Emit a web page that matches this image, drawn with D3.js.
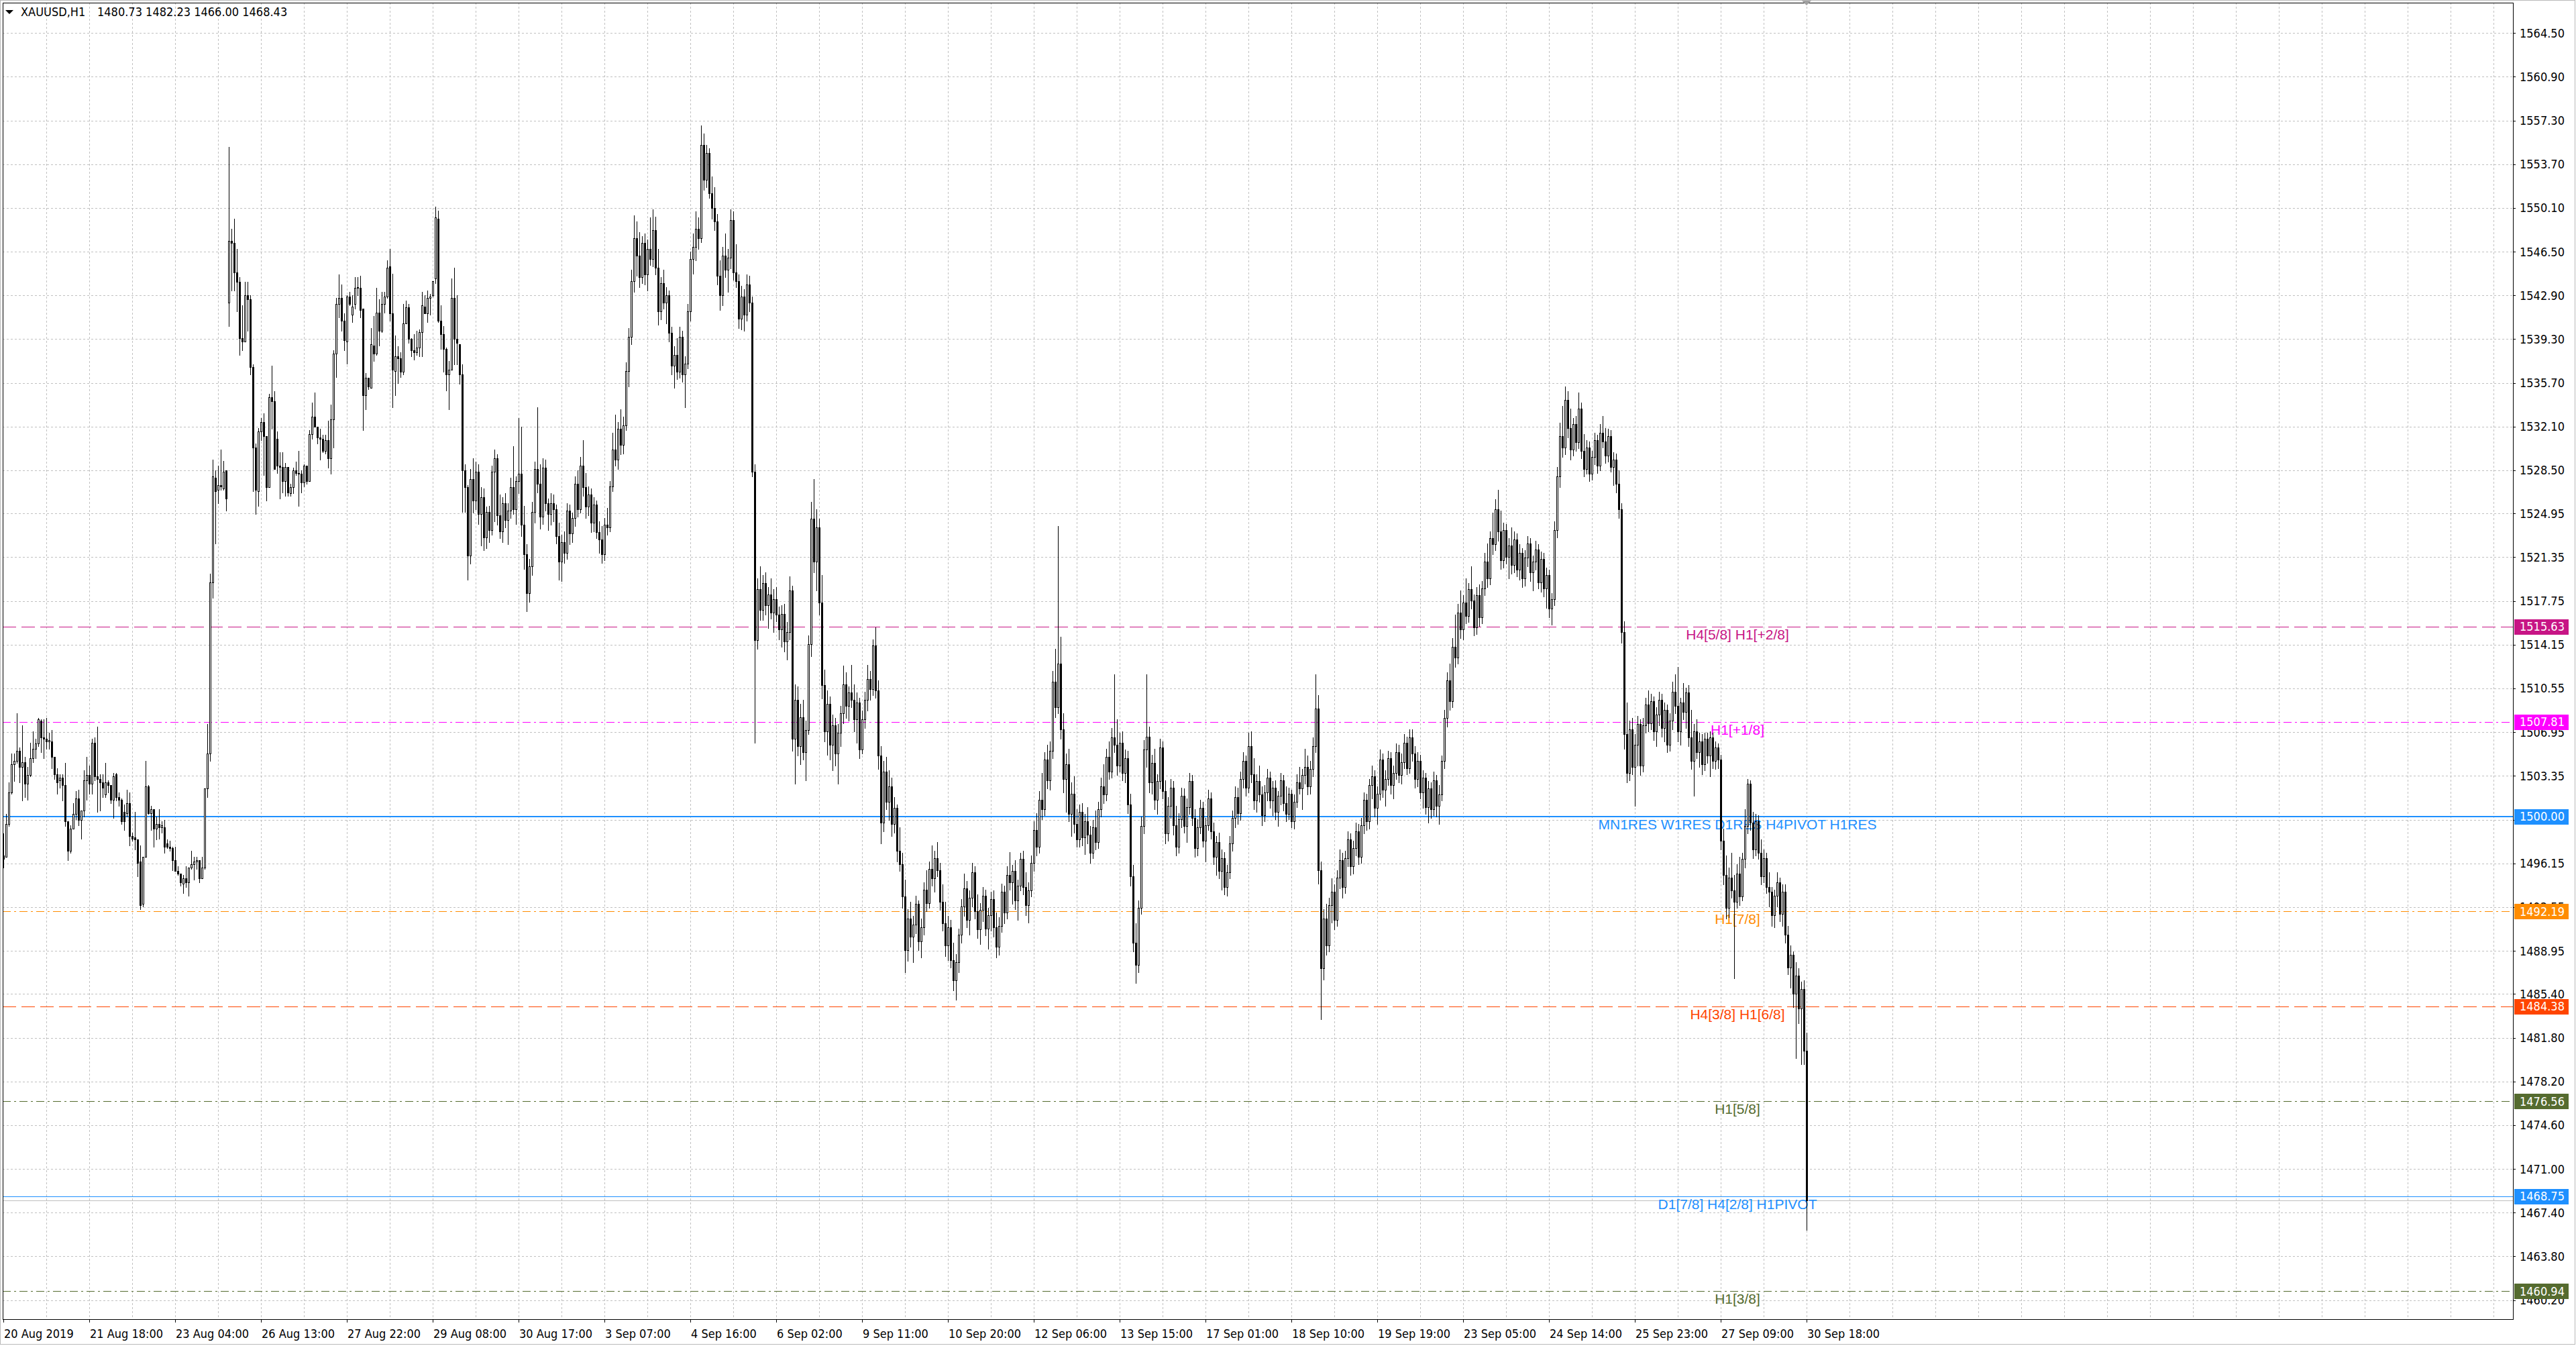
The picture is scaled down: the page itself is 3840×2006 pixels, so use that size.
<!DOCTYPE html>
<html><head><meta charset="utf-8">
<script src="https://cdn.jsdelivr.net/npm/d3@7"></script>
<style>html,body{margin:0;padding:0;background:#fff;overflow:hidden}</style>
</head><body>
<svg id="c" width="3840" height="2006"></svg>
<script>
// ---------------- DATA ----------------
const SYMBOL = "XAUUSD,H1";
const LAST_OHLC = ["1480.73","1482.23","1466.00","1468.43"];

const OPEN = [
1496.8,1496.7,1499.4,1502.0,1504.3,1504.6,1505.4,1504.1,1504.5,1502.7,
1503.4,1504.8,1505.6,1506.0,1507.9,1506.5,1506.4,1506.2,1506.2,1504.9,
1503.5,1503.0,1503.2,1502.6,1499.6,1497.2,1499.0,1500.2,1501.5,1499.7,
1500.5,1503.0,1503.4,1502.7,1506.1,1503.3,1503.1,1502.8,1501.8,1502.8,
1502.6,1501.4,1503.5,1501.6,1501.4,1500.4,1500.3,1501.1,1498.4,1498.3,
1498.1,1496.3,1492.8,1496.7,1502.5,1500.3,1500.6,1499.0,1499.4,1499.1,
1499.1,1497.8,1497.5,1497.4,1496.4,1495.5,1495.3,1494.5,1494.9,1494.6,
1495.8,1496.1,1496.3,1496.4,1494.9,1495.8,1502.3,1505.2,1519.3,1527.9,
1526.9,1527.3,1527.0,1528.5,1542.3,1547.4,1547.2,1544.8,1544.0,1539.4,
1539.1,1542.9,1542.6,1537.0,1530.4,1526.8,1531.7,1532.5,1531.3,1527.1,
1534.5,1534.2,1531.1,1528.9,1528.8,1527.6,1528.8,1526.6,1527.1,1528.5,
1528.3,1528.2,1527.5,1528.9,1527.6,1531.5,1532.9,1532.1,1531.2,1531.1,
1530.1,1531.0,1529.5,1532.7,1538.1,1542.2,1542.7,1540.8,1539.1,1542.8,
1541.3,1542.2,1543.5,1543.5,1541.8,1534.7,1536.1,1535.3,1538.8,1538.1,
1541.5,1540.0,1542.2,1542.8,1545.3,1541.4,1536.7,1537.9,1537.7,1536.6,
1540.6,1541.9,1539.3,1538.4,1538.2,1538.6,1539.9,1542.0,1541.4,1542.7,
1542.9,1544.3,1549.2,1540.8,1539.7,1538.5,1536.4,1536.8,1542.7,1539.3,
1538.9,1536.4,1528.5,1527.1,1521.5,1527.8,1526.0,1528.4,1524.9,1526.3,
1523.0,1525.1,1523.6,1528.4,1529.5,1524.8,1523.5,1525.8,1524.4,1525.2,
1527.1,1525.3,1527.6,1528.2,1524.0,1521.6,1518.4,1520.6,1525.1,1528.6,
1527.4,1524.7,1528.7,1525.8,1524.9,1525.8,1525.3,1523.1,1521.0,1522.6,
1521.7,1525.2,1523.3,1524.6,1527.4,1525.3,1528.9,1527.1,1525.5,1526.5,
1524.2,1525.7,1523.4,1522.8,1521.6,1524.0,1523.8,1527.2,1530.2,1529.4,
1531.9,1530.6,1532.2,1536.7,1539.5,1544.1,1547.6,1546.2,1544.4,1547.2,
1544.6,1546.7,1545.9,1548.3,1545.2,1541.6,1543.9,1542.3,1542.9,1539.8,
1537.1,1538.0,1536.6,1539.5,1536.4,1537.3,1541.6,1545.9,1546.9,1548.4,
1547.6,1555.3,1552.4,1554.6,1551.3,1550.1,1549.0,1544.5,1542.9,1546.2,
1545.0,1546.0,1549.1,1544.8,1544.1,1541.0,1542.8,1541.3,1543.8,1542.3,
1528.4,1514.5,1518.7,1517.0,1519.2,1517.4,1518.3,1516.8,1517.9,1516.6,
1515.4,1516.7,1514.4,1515.2,1518.6,1506.4,1509.6,1505.8,1508.2,1505.3,
1507.1,1514.2,1524.5,1521.0,1523.8,1517.6,1510.8,1507.0,1509.3,1505.9,
1507.5,1505.2,1506.9,1508.5,1510.9,1509.1,1510.2,1509.6,1508.0,1509.4,
1505.5,1508.0,1509.6,1511.3,1510.5,1514.1,1510.4,1505.0,1499.5,1503.7,
1501.2,1502.5,1499.4,1500.7,1497.2,1496.1,1493.4,1489.0,1491.6,1490.1,
1491.1,1492.8,1489.7,1490.9,1494.0,1492.9,1495.7,1494.9,1496.6,1495.6,
1493.0,1491.2,1489.4,1490.9,1488.2,1486.5,1488.0,1490.3,1492.6,1494.1,
1491.5,1493.3,1495.4,1492.2,1490.7,1492.3,1493.5,1490.8,1491.9,1493.2,
1490.9,1489.3,1491.0,1493.8,1492.1,1495.2,1494.6,1495.5,1493.1,1494.3,
1496.5,1494.2,1492.7,1493.9,1496.2,1498.9,1497.5,1501.4,1500.6,1504.7,
1503.0,1505.4,1511.1,1509.0,1512.6,1507.2,1503.1,1504.3,1500.2,1501.9,
1499.4,1498.1,1500.4,1498.3,1499.6,1498.5,1497.0,1499.1,1497.9,1500.6,
1502.5,1501.8,1504.9,1503.7,1506.5,1505.9,1504.2,1506.1,1503.6,1504.8,
1501.0,1495.1,1489.6,1487.8,1492.5,1499.2,1505.5,1506.6,1502.8,1504.4,
1501.4,1502.9,1505.7,1502.1,1498.6,1500.9,1502.4,1499.3,1497.5,1499.8,
1501.7,1499.2,1500.8,1502.9,1499.9,1497.4,1499.1,1500.7,1498.0,1499.3,
1501.5,1498.8,1496.7,1497.9,1495.5,1496.6,1494.2,1495.4,1497.8,1499.9,
1501.6,1500.3,1503.1,1504.6,1502.4,1505.8,1503.5,1501.3,1502.9,1501.8,
1500.1,1502.0,1503.2,1501.3,1502.4,1500.4,1501.7,1503.0,1501.1,1500.2,
1501.9,1499.6,1501.2,1502.8,1502.3,1503.4,1504.1,1502.5,1503.9,1505.8,
1508.9,1495.6,1487.5,1491.6,1489.4,1492.7,1493.8,1491.5,1495.0,1496.4,
1494.2,1496.6,1498.1,1495.9,1497.4,1498.8,1496.7,1499.3,1501.4,1499.6,
1502.6,1503.3,1500.7,1501.9,1504.7,1502.2,1503.1,1504.8,1502.6,1503.6,
1505.3,1503.4,1504.5,1506.1,1504.0,1506.5,1505.2,1503.1,1504.6,1502.0,
1503.2,1500.8,1502.3,1500.6,1503.0,1500.9,1501.8,1504.6,1508.1,1511.2,
1509.5,1514.0,1513.1,1516.8,1515.4,1517.6,1516.5,1518.7,1517.8,1515.6,
1518.2,1516.4,1518.8,1521.0,1519.6,1522.9,1522.4,1525.3,1523.5,1521.1,
1523.6,1521.4,1522.3,1520.7,1522.8,1520.3,1521.7,1519.6,1521.3,1522.5,
1520.1,1521.0,1522.0,1519.3,1521.2,1518.8,1519.9,1517.1,1517.9,1523.6,
1528.0,1531.3,1530.4,1534.3,1532.0,1530.2,1532.3,1530.8,1533.6,1530.1,
1528.6,1530.4,1528.2,1529.6,1531.0,1528.9,1531.6,1530.9,1529.7,1531.3,
1528.8,1529.4,1527.4,1525.3,1515.2,1506.8,1503.6,1507.2,1504.1,1505.9,
1507.6,1504.2,1507.5,1509.2,1507.7,1509.5,1507.0,1508.4,1509.6,1507.3,
1508.8,1505.9,1507.9,1510.3,1509.1,1507.0,1509.4,1508.6,1510.2,1506.5,
1504.6,1507.0,1505.3,1506.2,1504.3,1506.4,1505.0,1506.5,1504.6,1505.7,
1504.7,1498.0,1495.2,1492.5,1495.0,1493.9,1493.0,1495.3,1493.4,1496.5,
1499.2,1502.7,1499.5,1497.3,1499.6,1497.0,1495.1,1496.6,1494.2,1493.8,
1491.9,1493.5,1494.6,1492.0,1493.8,1490.3,1487.6,1488.6,1485.4,1486.9,
1484.2,1485.8,1480.73];

const HIGH = [
1498.6,1500.2,1502.8,1505.2,1505.2,1508.5,1505.7,1507.5,1504.9,1504.1,
1506.1,1507.0,1506.4,1508.1,1508.0,1508.0,1508.1,1506.9,1507.1,1504.9,
1504.0,1503.5,1503.5,1504.4,1499.6,1499.3,1501.1,1502.1,1502.2,1500.5,
1503.8,1504.9,1504.2,1506.4,1506.5,1507.4,1503.5,1503.5,1504.4,1503.0,
1502.6,1503.6,1503.6,1502.0,1501.5,1501.0,1502.2,1502.0,1498.7,1500.4,
1498.1,1497.6,1496.7,1504.6,1502.6,1500.9,1500.6,1500.0,1500.6,1499.6,
1499.7,1498.1,1498.0,1497.5,1497.5,1495.9,1495.3,1495.2,1495.9,1495.8,
1497.2,1496.7,1496.7,1496.4,1496.7,1502.3,1507.6,1520.0,1529.4,1528.5,
1528.9,1530.2,1529.3,1528.5,1555.1,1548.4,1549.2,1546.7,1544.4,1542.1,
1544.0,1544.0,1542.9,1537.2,1530.7,1532.0,1532.8,1533.2,1531.3,1534.8,
1537.1,1535.0,1531.7,1530.0,1530.0,1529.1,1528.8,1527.4,1528.7,1529.2,
1530.1,1528.5,1529.0,1528.9,1531.8,1534.1,1534.9,1532.1,1531.9,1531.4,
1531.4,1532.6,1533.9,1538.4,1542.7,1544.6,1543.8,1541.4,1542.9,1543.2,
1542.9,1544.4,1544.4,1544.5,1541.8,1536.5,1536.1,1540.2,1541.2,1543.5,
1542.6,1543.2,1543.2,1545.8,1546.7,1544.7,1539.6,1538.7,1538.2,1542.2,
1542.5,1542.2,1539.4,1539.7,1540.0,1540.1,1543.2,1542.9,1543.3,1543.0,
1544.1,1550.2,1549.9,1542.1,1540.4,1538.6,1537.5,1544.3,1545.2,1542.9,
1538.9,1537.2,1529.0,1527.3,1528.6,1529.5,1529.2,1529.0,1527.1,1527.0,
1525.5,1525.6,1528.9,1530.2,1529.8,1526.5,1526.3,1526.6,1525.8,1527.9,
1530.5,1528.0,1532.8,1532.1,1525.6,1522.4,1521.2,1525.9,1529.2,1533.7,
1529.0,1529.5,1529.4,1526.2,1526.6,1526.5,1525.7,1524.2,1523.2,1523.5,
1525.8,1525.7,1525.0,1528.0,1528.5,1529.6,1531.0,1528.3,1527.2,1527.0,
1526.3,1526.0,1524.3,1523.9,1524.6,1525.4,1527.6,1531.6,1533.1,1532.5,
1533.5,1532.9,1537.4,1540.2,1545.0,1549.5,1549.0,1548.1,1547.8,1548.0,
1547.5,1549.3,1550.0,1549.4,1546.7,1544.4,1545.0,1543.6,1543.3,1540.3,
1538.7,1539.4,1540.3,1540.0,1537.9,1542.2,1546.5,1548.0,1549.8,1549.3,
1556.9,1556.2,1555.3,1555.0,1552.7,1551.8,1549.6,1545.8,1546.9,1548.0,
1546.7,1550.0,1549.8,1547.1,1544.6,1543.7,1543.4,1544.6,1544.5,1542.8,
1529.0,1519.6,1520.6,1519.9,1520.1,1518.9,1519.6,1518.7,1518.9,1517.3,
1517.4,1517.5,1516.0,1519.8,1519.0,1510.9,1510.7,1509.3,1509.6,1507.9,
1514.9,1525.9,1527.8,1525.3,1524.5,1519.9,1512.1,1510.4,1509.9,1508.4,
1508.1,1507.6,1509.1,1512.4,1511.9,1510.7,1512.5,1510.9,1510.2,1509.8,
1508.7,1510.3,1512.5,1512.0,1514.6,1515.6,1511.2,1505.8,1504.6,1504.9,
1503.8,1503.2,1501.6,1501.0,1499.1,1497.0,1494.8,1492.4,1493.0,1491.8,
1493.5,1493.1,1491.6,1494.6,1495.6,1496.3,1497.6,1497.2,1497.9,1496.2,
1494.4,1493.0,1491.8,1491.5,1489.6,1488.7,1490.8,1493.2,1495.3,1494.7,
1493.9,1496.2,1495.9,1493.6,1492.9,1494.2,1494.0,1492.5,1493.8,1493.9,
1492.1,1491.7,1494.5,1494.3,1495.9,1497.1,1496.0,1496.4,1494.8,1497.0,
1497.2,1495.4,1494.6,1496.8,1499.6,1500.3,1502.1,1503.6,1505.3,1505.9,
1506.2,1512.0,1513.8,1523.9,1514.8,1508.5,1505.2,1505.6,1502.8,1503.3,
1500.6,1501.0,1501.1,1500.2,1500.8,1499.2,1499.7,1500.5,1501.2,1503.2,
1504.3,1505.6,1506.2,1507.3,1511.7,1508.0,1506.9,1507.0,1505.5,1505.4,
1501.9,1496.0,1491.2,1493.1,1500.0,1506.3,1511.7,1507.4,1505.1,1505.6,
1503.5,1506.4,1506.2,1503.0,1501.6,1503.1,1502.9,1500.9,1500.3,1502.4,
1502.3,1501.5,1503.6,1503.4,1500.6,1499.8,1501.4,1501.2,1499.9,1502.2,
1502.0,1499.5,1498.4,1498.7,1497.3,1497.1,1496.0,1498.4,1500.5,1502.5,
1502.4,1503.7,1505.3,1505.0,1506.9,1507.0,1504.8,1503.5,1504.2,1502.5,
1502.6,1503.9,1503.7,1502.9,1503.0,1502.1,1503.6,1503.4,1502.5,1502.4,
1502.2,1501.8,1503.5,1504.1,1503.9,1505.6,1505.0,1504.6,1506.5,1511.7,
1510.0,1496.3,1492.4,1492.8,1493.3,1494.9,1494.4,1495.6,1497.3,1497.0,
1497.2,1498.8,1498.6,1498.0,1499.5,1499.4,1499.9,1502.0,1501.9,1503.1,
1504.2,1503.8,1502.5,1505.5,1505.2,1503.8,1505.4,1505.3,1504.2,1506.0,
1505.9,1505.2,1506.8,1506.6,1507.2,1507.2,1505.8,1505.3,1505.1,1503.8,
1503.6,1502.9,1502.8,1503.7,1503.4,1502.6,1505.0,1508.8,1511.9,1512.6,
1514.7,1516.6,1517.5,1518.6,1518.2,1519.6,1519.2,1520.6,1518.3,1518.9,
1519.1,1519.4,1521.7,1522.5,1523.5,1525.0,1526.1,1526.9,1525.2,1524.2,
1524.1,1522.9,1523.8,1523.5,1523.3,1522.4,1522.1,1521.9,1523.1,1522.9,
1521.5,1522.7,1522.4,1521.8,1521.7,1520.5,1520.3,1518.4,1524.3,1528.8,
1532.4,1533.8,1535.4,1535.0,1533.6,1532.8,1533.0,1534.9,1534.1,1531.5,
1531.0,1530.9,1530.1,1531.6,1531.4,1532.3,1533.0,1532.0,1531.9,1531.8,
1530.0,1529.9,1528.5,1525.8,1516.1,1509.4,1507.9,1508.1,1506.8,1508.3,
1508.0,1508.1,1509.8,1510.4,1510.1,1509.9,1509.0,1510.3,1510.1,1509.4,
1509.2,1508.5,1511.1,1511.7,1512.3,1509.8,1511.0,1510.6,1510.8,1508.8,
1507.6,1508.0,1506.9,1506.8,1506.9,1506.9,1507.0,1506.9,1506.2,1506.0,
1505.1,1499.0,1496.8,1495.8,1497.0,1495.2,1496.1,1496.7,1497.0,1500.6,
1503.1,1503.0,1500.4,1500.2,1500.1,1498.1,1497.3,1497.0,1495.4,1494.2,
1494.0,1495.4,1495.0,1494.4,1494.4,1491.0,1489.4,1488.9,1488.0,1487.5,
1486.4,1486.5,1482.23];

const LOW = [
1495.8,1496.7,1499.2,1501.9,1502.9,1504.4,1502.8,1501.3,1501.6,1501.4,
1503.3,1504.5,1504.8,1505.8,1505.3,1504.8,1505.6,1505.6,1504.0,1503.1,
1501.9,1502.4,1501.3,1499.2,1496.4,1497.0,1499.0,1499.8,1499.3,1498.2,
1500.0,1501.4,1501.9,1501.9,1503.0,1500.4,1500.5,1501.6,1501.6,1502.0,
1501.1,1499.9,1501.3,1500.9,1499.4,1498.9,1500.0,1497.6,1498.0,1497.3,
1495.1,1492.4,1492.6,1496.7,1500.2,1498.9,1497.5,1498.1,1498.2,1498.7,
1497.0,1497.4,1497.2,1495.6,1495.5,1495.2,1494.3,1493.7,1494.2,1493.5,
1495.7,1494.8,1495.7,1494.6,1494.9,1495.7,1501.6,1504.6,1518.0,1522.5,
1525.8,1526.9,1526.9,1525.2,1540.4,1543.3,1543.3,1541.6,1538.0,1538.4,
1539.1,1540.0,1536.4,1526.8,1524.9,1525.6,1531.0,1528.1,1526.0,1527.1,
1531.9,1528.6,1528.3,1526.2,1526.7,1526.4,1526.4,1526.4,1526.6,1528.1,
1525.6,1526.7,1527.2,1527.4,1527.6,1531.1,1532.1,1530.7,1529.4,1530.0,
1529.9,1528.7,1528.2,1530.4,1536.2,1541.1,1540.0,1538.4,1537.3,1542.1,
1540.7,1541.8,1542.9,1541.1,1531.8,1533.5,1535.2,1535.3,1537.5,1538.0,
1538.8,1539.9,1541.5,1542.7,1540.8,1533.7,1534.7,1535.7,1536.2,1536.4,
1540.6,1539.0,1537.9,1537.6,1538.0,1537.9,1537.9,1541.4,1540.7,1541.3,
1542.8,1543.9,1540.7,1538.5,1536.6,1535.1,1533.5,1536.8,1537.2,1537.2,
1535.6,1525.1,1525.1,1519.5,1520.8,1525.0,1525.3,1524.1,1522.3,1521.9,
1522.1,1522.6,1523.2,1524.3,1524.0,1522.9,1522.6,1523.8,1522.4,1524.6,
1524.9,1524.1,1526.6,1523.1,1520.4,1516.9,1517.7,1519.9,1524.2,1526.7,
1523.7,1524.1,1525.2,1523.6,1524.0,1524.3,1522.5,1519.5,1519.4,1520.9,
1521.2,1522.4,1522.6,1523.9,1524.7,1525.0,1526.4,1524.6,1524.8,1523.4,
1523.5,1522.9,1521.7,1520.9,1521.1,1523.2,1523.5,1526.8,1528.9,1528.6,
1529.8,1529.9,1531.8,1535.4,1538.9,1543.2,1544.5,1543.6,1543.9,1543.8,
1543.3,1545.4,1545.3,1544.6,1540.5,1540.9,1541.8,1540.6,1539.1,1536.4,
1535.3,1536.0,1536.1,1535.8,1533.7,1536.9,1540.8,1544.7,1545.8,1546.7,
1547.3,1551.6,1551.8,1550.9,1549.2,1548.3,1543.8,1541.7,1542.1,1544.4,
1543.2,1545.1,1544.2,1543.6,1540.2,1540.1,1540.0,1540.8,1541.6,1528.0,
1506.1,1513.8,1516.2,1516.2,1516.6,1515.5,1516.3,1515.2,1516.1,1514.6,
1514.0,1513.6,1512.9,1514.6,1505.4,1502.7,1505.0,1504.3,1504.7,1503.0,
1506.8,1513.2,1520.1,1518.6,1516.6,1509.7,1506.2,1505.1,1504.7,1503.8,
1504.2,1502.7,1505.8,1507.7,1508.1,1507.9,1509.0,1507.0,1506.1,1504.8,
1505.2,1507.3,1508.7,1509.6,1510.0,1509.8,1503.9,1497.8,1498.8,1500.6,
1499.7,1498.4,1498.7,1496.3,1495.5,1492.5,1487.2,1488.1,1489.3,1488.0,
1490.4,1489.0,1488.4,1490.3,1492.2,1492.5,1494.3,1493.8,1495.1,1492.3,
1490.6,1488.5,1488.2,1487.6,1485.7,1484.9,1487.2,1489.6,1491.8,1490.9,
1490.3,1492.6,1491.6,1490.0,1489.5,1491.4,1490.2,1489.1,1490.6,1490.1,
1488.4,1488.6,1490.5,1491.2,1491.6,1494.0,1492.8,1492.4,1491.5,1493.9,
1493.6,1491.9,1491.3,1493.4,1495.5,1496.8,1497.0,1499.8,1500.1,1502.3,
1502.2,1504.8,1508.2,1508.5,1506.4,1502.0,1500.4,1499.6,1498.4,1498.7,
1497.5,1497.5,1497.6,1496.9,1497.8,1496.2,1496.6,1497.3,1497.4,1500.0,
1501.1,1501.3,1503.1,1503.2,1505.3,1503.4,1503.7,1503.0,1502.8,1500.3,
1494.3,1488.9,1486.3,1487.2,1492.0,1498.6,1504.1,1502.0,1501.9,1500.6,
1500.2,1502.3,1501.5,1497.8,1498.0,1499.9,1498.5,1496.8,1497.0,1499.1,
1498.7,1497.9,1500.2,1499.3,1496.7,1496.8,1498.6,1497.5,1496.3,1498.9,
1498.2,1496.1,1495.2,1494.9,1494.0,1493.6,1493.5,1494.9,1497.2,1499.1,
1499.4,1499.7,1502.4,1501.7,1502.0,1502.8,1500.6,1500.4,1501.2,1499.3,
1499.6,1501.3,1500.7,1500.1,1499.8,1499.2,1501.0,1500.5,1499.6,1499.8,
1499.1,1499.0,1500.8,1501.9,1500.6,1502.7,1501.8,1501.9,1503.3,1505.3,
1494.5,1483.3,1486.6,1488.6,1488.9,1491.3,1490.7,1491.0,1494.1,1493.3,
1493.7,1495.9,1495.2,1495.3,1496.8,1496.1,1496.2,1498.6,1498.9,1499.0,
1501.5,1500.0,1499.4,1501.4,1501.6,1500.9,1502.6,1501.9,1501.5,1503.1,
1502.8,1502.7,1504.0,1503.5,1503.6,1504.6,1502.4,1502.5,1501.5,1500.7,
1500.2,1499.5,1499.9,1500.1,1500.0,1499.4,1501.3,1504.0,1507.4,1508.8,
1509.0,1512.3,1512.6,1514.7,1514.6,1515.9,1516.0,1517.1,1514.9,1515.0,
1515.7,1515.9,1518.2,1518.9,1519.1,1521.6,1521.9,1522.7,1520.4,1520.5,
1520.8,1519.6,1520.0,1520.1,1519.8,1519.5,1518.9,1519.0,1520.6,1519.4,
1518.6,1520.3,1518.8,1518.5,1518.1,1517.2,1516.4,1515.8,1517.4,1523.0,
1527.1,1529.6,1529.8,1531.2,1529.4,1529.7,1530.1,1530.3,1529.5,1528.0,
1528.2,1527.6,1527.7,1529.0,1528.3,1528.5,1530.4,1529.1,1529.2,1528.4,
1527.3,1526.7,1524.6,1514.3,1505.6,1502.8,1503.0,1503.5,1500.9,1504.2,
1503.4,1503.7,1506.9,1507.0,1507.2,1506.3,1505.8,1507.5,1506.6,1506.2,
1505.3,1505.4,1507.2,1508.5,1506.2,1505.9,1508.0,1507.3,1505.8,1503.9,
1501.7,1504.8,1504.1,1503.5,1503.8,1504.4,1503.3,1504.0,1503.9,1504.0,
1497.3,1494.4,1491.6,1491.7,1493.3,1486.7,1492.5,1492.7,1493.1,1495.8,
1498.6,1498.9,1496.6,1496.8,1496.5,1494.4,1494.6,1493.7,1492.6,1491.0,
1490.9,1492.6,1491.4,1491.0,1489.6,1487.0,1485.9,1484.3,1480.1,1483.0,
1479.6,1479.6,1466.00];

const CLOSE = [
1496.5,1499.4,1502.0,1504.3,1504.6,1505.4,1504.1,1504.5,1502.7,1503.4,
1504.8,1505.6,1506.0,1508.0,1506.5,1506.4,1506.2,1506.3,1504.9,1503.5,
1502.8,1503.2,1502.6,1499.6,1497.2,1499.0,1500.2,1501.5,1499.7,1500.5,
1503.0,1503.4,1502.7,1506.1,1503.3,1503.1,1502.8,1502.4,1502.8,1502.6,
1501.4,1503.3,1501.6,1501.4,1499.6,1499.6,1501.1,1498.4,1498.2,1498.1,
1496.2,1492.7,1496.7,1502.5,1500.3,1500.6,1499.0,1499.4,1499.1,1499.3,
1497.5,1497.5,1497.4,1496.4,1495.5,1495.3,1494.6,1494.9,1494.6,1495.8,
1496.1,1496.3,1496.4,1494.9,1495.8,1502.3,1505.2,1519.3,1528.0,1526.8,
1527.3,1527.2,1528.4,1526.2,1547.4,1547.2,1544.8,1544.0,1539.4,1539.1,
1542.9,1542.6,1537.0,1530.4,1526.9,1531.7,1532.5,1531.3,1527.1,1534.5,
1534.2,1528.6,1528.9,1528.8,1527.6,1528.8,1526.7,1527.1,1528.5,1528.3,
1528.2,1527.5,1528.9,1527.6,1531.5,1532.9,1532.1,1531.2,1531.1,1530.1,
1531.0,1529.5,1532.7,1538.1,1542.2,1542.7,1540.8,1539.2,1542.8,1542.2,
1542.0,1543.5,1543.6,1541.7,1534.7,1536.1,1535.4,1538.9,1538.1,1541.5,
1540.0,1542.2,1542.8,1545.2,1541.4,1536.8,1537.9,1537.7,1536.6,1540.6,
1541.9,1539.3,1538.4,1538.2,1538.6,1539.9,1542.1,1541.4,1542.7,1542.8,
1544.1,1549.3,1540.8,1539.7,1538.5,1536.4,1536.8,1542.7,1539.3,1539.0,
1536.4,1528.5,1527.1,1521.5,1527.8,1526.0,1528.4,1524.9,1526.3,1523.0,
1525.1,1523.6,1528.4,1529.5,1524.8,1523.5,1525.8,1524.4,1525.2,1527.1,
1525.3,1527.6,1528.2,1524.0,1521.6,1518.4,1520.6,1525.1,1528.6,1527.4,
1524.7,1528.7,1525.8,1524.9,1525.8,1525.3,1523.1,1521.0,1522.6,1521.7,
1525.2,1523.3,1524.6,1527.4,1525.3,1528.9,1527.1,1525.5,1526.5,1524.2,
1525.7,1523.4,1522.8,1521.6,1524.0,1523.8,1527.2,1530.2,1529.4,1531.9,
1530.6,1532.2,1536.7,1539.5,1544.1,1547.6,1546.2,1544.4,1547.2,1544.6,
1546.7,1545.9,1548.3,1545.2,1541.6,1543.9,1542.3,1542.9,1539.8,1537.1,
1538.0,1536.6,1539.5,1536.4,1537.3,1541.6,1545.9,1546.9,1548.4,1547.6,
1555.3,1552.4,1554.6,1551.3,1550.1,1549.0,1544.5,1542.9,1546.2,1545.0,
1546.0,1549.1,1544.8,1544.1,1541.0,1542.8,1541.3,1543.8,1542.3,1528.4,
1514.5,1518.7,1517.0,1519.2,1517.4,1518.3,1516.8,1517.9,1516.6,1515.4,
1516.7,1514.4,1515.2,1518.6,1506.4,1509.6,1505.8,1508.2,1505.3,1507.1,
1514.2,1524.5,1521.0,1523.8,1517.6,1510.8,1507.0,1509.3,1505.9,1507.5,
1505.2,1506.9,1508.5,1510.9,1509.1,1510.2,1509.6,1508.0,1509.4,1505.5,
1508.0,1509.6,1511.3,1510.5,1514.1,1510.4,1505.0,1499.5,1503.7,1501.2,
1502.5,1499.4,1500.7,1497.2,1496.1,1493.4,1489.0,1491.6,1490.1,1491.1,
1492.8,1489.7,1490.9,1494.0,1492.9,1495.7,1494.9,1496.6,1495.6,1493.0,
1491.2,1489.4,1490.9,1488.2,1486.5,1488.0,1490.3,1492.6,1494.1,1491.5,
1493.3,1495.4,1492.2,1490.7,1492.3,1493.5,1490.8,1491.9,1493.2,1490.9,
1489.3,1491.0,1493.8,1492.1,1495.2,1494.6,1495.5,1493.1,1494.3,1496.5,
1494.2,1492.7,1493.9,1496.2,1498.9,1497.5,1501.4,1500.6,1504.7,1503.0,
1505.4,1511.1,1509.0,1512.6,1507.2,1503.1,1504.3,1500.2,1501.9,1499.4,
1498.1,1500.4,1498.3,1499.6,1498.5,1497.0,1499.1,1497.9,1500.6,1502.5,
1501.8,1504.9,1503.7,1506.5,1505.9,1504.2,1506.1,1503.6,1504.8,1501.0,
1495.1,1489.6,1487.8,1492.5,1499.2,1505.5,1506.6,1502.8,1504.4,1501.4,
1502.9,1505.7,1502.1,1498.6,1500.9,1502.4,1499.3,1497.5,1499.8,1501.7,
1499.2,1500.8,1502.9,1499.9,1497.4,1499.1,1500.7,1498.0,1499.3,1501.5,
1498.8,1496.7,1497.9,1495.5,1496.6,1494.2,1495.4,1497.8,1499.9,1501.6,
1500.3,1503.1,1504.6,1502.4,1505.8,1503.5,1501.3,1502.9,1501.8,1500.1,
1502.0,1503.2,1501.3,1502.4,1500.4,1501.7,1503.0,1501.1,1500.2,1501.9,
1499.6,1501.2,1502.8,1502.3,1503.4,1504.1,1502.5,1503.9,1505.8,1508.9,
1495.6,1487.5,1491.6,1489.4,1492.7,1493.8,1491.5,1495.0,1496.4,1494.2,
1496.6,1498.1,1495.9,1497.4,1498.8,1496.7,1499.3,1501.4,1499.6,1502.6,
1503.3,1500.7,1501.9,1504.7,1502.2,1503.1,1504.8,1502.6,1503.6,1505.3,
1503.4,1504.5,1506.1,1504.0,1506.5,1505.2,1503.1,1504.6,1502.0,1503.2,
1500.8,1502.3,1500.6,1503.0,1500.9,1501.8,1504.6,1508.1,1511.2,1509.5,
1514.0,1513.1,1516.8,1515.4,1517.6,1516.5,1518.7,1517.8,1515.6,1518.2,
1516.4,1518.8,1521.0,1519.6,1522.9,1522.4,1525.3,1523.5,1521.1,1523.6,
1521.4,1522.3,1520.7,1522.8,1520.3,1521.7,1519.6,1521.3,1522.5,1520.1,
1521.0,1522.0,1519.3,1521.2,1518.8,1519.9,1517.1,1517.9,1523.6,1528.0,
1531.3,1530.4,1534.3,1532.0,1530.2,1532.3,1530.8,1533.6,1530.1,1528.6,
1530.4,1528.2,1529.6,1531.0,1528.9,1531.6,1530.9,1529.7,1531.3,1528.8,
1529.4,1527.4,1525.3,1515.2,1506.8,1503.6,1507.2,1504.1,1505.9,1507.6,
1504.2,1507.5,1509.2,1507.7,1509.5,1507.0,1508.4,1509.6,1507.3,1508.8,
1505.9,1507.9,1510.3,1509.1,1507.0,1509.4,1508.6,1510.2,1506.5,1504.6,
1507.0,1505.3,1506.2,1504.3,1506.4,1505.0,1506.5,1504.6,1505.7,1504.7,
1498.0,1495.2,1492.5,1495.0,1493.9,1493.0,1495.3,1493.4,1496.5,1499.2,
1502.7,1499.5,1497.3,1499.6,1497.0,1495.1,1496.6,1494.2,1493.8,1491.9,
1493.5,1494.6,1492.0,1493.8,1490.3,1487.6,1488.6,1485.4,1486.9,1484.2,
1485.8,1480.7,1468.43];

const PRICE_TICKS = [1564.50,1560.90,1557.30,1553.70,1550.10,1546.50,1542.90,1539.30,1535.70,1532.10,
1528.50,1524.95,1521.35,1517.75,1514.15,1510.55,1506.95,1503.35,1499.75,1496.15,1492.55,1488.95,
1485.40,1481.80,1478.20,1474.60,1471.00,1467.40,1463.80,1460.20];

const TIME_LABELS = ["20 Aug 2019","21 Aug 18:00","23 Aug 04:00","26 Aug 13:00","27 Aug 22:00","29 Aug 08:00",
"30 Aug 17:00","3 Sep 07:00","4 Sep 16:00","6 Sep 02:00","9 Sep 11:00","10 Sep 20:00","12 Sep 06:00",
"13 Sep 15:00","17 Sep 01:00","18 Sep 10:00","19 Sep 19:00","23 Sep 05:00","24 Sep 14:00","25 Sep 23:00",
"27 Sep 09:00","30 Sep 18:00"];
const TIME_LABEL_BARS = [0,32,64,96,128,160,192,224,256,288,320,352,384,416,448,480,512,544,576,608,640,672];

const LEVEL_PRICES = [1515.63,1507.81,1500.00,1492.19,1484.38,1476.56,1468.75,1460.94];
const LEVEL_LABELS = ["H4[5/8] H1[+2/8]","H1[+1/8]","MN1RES W1RES D1RES H4PIVOT H1RES","H1[7/8]",
"H4[3/8] H1[6/8]","H1[5/8]","D1[7/8] H4[2/8] H1PIVOT","H1[3/8]"];
const BID_PRICE = 1468.43;

// ---------------- STYLE ----------------
const LEVEL_STYLE = [
 {c:"#C71585", dash:"20,8", w:1},
 {c:"#FF00FF", dash:"12,5,3,5", w:1},
 {c:"#1E90FF", dash:null, w:2},
 {c:"#FF8C00", dash:"12,5,3,5", w:1},
 {c:"#FF4500", dash:"20,8", w:1},
 {c:"#556B2F", dash:"12,5,3,5", w:1},
 {c:"#1E90FF", dash:null, w:1},
 {c:"#556B2F", dash:"12,5,3,5", w:1}
];
const AXIS_FONT = "'DejaVu Sans Condensed','Liberation Sans',Arial,sans-serif";
const LABEL_FONT = "'Liberation Sans',Arial,sans-serif";

// ---------------- CHART ----------------
const svg = d3.select('#c');
const PL=4, PT=4, PR=3746, PB=1966;
const x = d3.scaleLinear().domain([0,672]).range([5,2693]);
const y = d3.scaleLinear().domain([1460.2,1564.5]).range([1937.6,49.2]);
const px = v => Math.round(v)+0.5;

svg.append('rect').attr('width',3840).attr('height',2006).attr('fill','#fff');
svg.append('rect').attr('x',0.5).attr('y',0.5).attr('width',3838).attr('height',2003)
  .attr('fill','none').attr('stroke','#b9b9b9');

svg.append('defs').append('clipPath').attr('id','clip').append('rect')
  .attr('x',PL).attr('y',PT).attr('width',PR-PL).attr('height',PB-PT);

// grid
const grid = svg.append('g').attr('clip-path','url(#clip)').attr('shape-rendering','crispEdges');
grid.selectAll('line.h').data(PRICE_TICKS).join('line')
  .attr('x1',PL).attr('x2',PR).attr('y1',d=>px(y(d))).attr('y2',d=>px(y(d)))
  .attr('stroke','#c0c0c0').attr('stroke-dasharray','3,3');
const vBars = d3.range(16, 1000, 16).filter(b => x(b) < PR);
grid.selectAll('line.v').data(vBars).join('line')
  .attr('x1',d=>px(x(d))).attr('x2',d=>px(x(d))).attr('y1',PT).attr('y2',PB)
  .attr('stroke','#c0c0c0').attr('stroke-dasharray','3,3');

// level lines
const lv = svg.append('g').attr('clip-path','url(#clip)').attr('shape-rendering','crispEdges');
LEVEL_PRICES.forEach((p,k)=>{
  const s = LEVEL_STYLE[k];
  const yy = s.w===2 ? Math.round(y(p)) : px(y(p));
  const l = lv.append('line').attr('x1',PL).attr('x2',PR).attr('y1',yy).attr('y2',yy)
    .attr('stroke',s.c).attr('stroke-width',s.w);
  if (s.dash) l.attr('stroke-dasharray',s.dash);
});
lv.append('line').attr('x1',PL).attr('x2',PR).attr('y1',px(y(BID_PRICE))).attr('y2',px(y(BID_PRICE)))
  .attr('stroke','#c0c0c0');

// level labels
const labelX = x(646.25);
svg.append('g').selectAll('text').data(LEVEL_PRICES).join('text')
  .attr('x',labelX).attr('y',d=>y(d)+19).attr('text-anchor','middle')
  .attr('font-family',LABEL_FONT).attr('font-size',21)
  .attr('fill',(d,k)=>LEVEL_STYLE[k].c).text((d,k)=>LEVEL_LABELS[k]);

// candles
const cg = svg.append('g').attr('clip-path','url(#clip)').attr('shape-rendering','crispEdges');
const idx = d3.range(CLOSE.length);
cg.selectAll('line.w').data(idx).join('line')
  .attr('x1',i=>px(x(i))).attr('x2',i=>px(x(i)))
  .attr('y1',i=>Math.round(y(HIGH[i]))).attr('y2',i=>Math.round(y(LOW[i]))+1)
  .attr('stroke','#000');
cg.selectAll('rect.b').data(idx).join('rect')
  .attr('x',i=>Math.round(x(i))-0.5).attr('width',2)
  .attr('y',i=>px(y(Math.max(OPEN[i],CLOSE[i]))))
  .attr('height',i=>Math.max(1, Math.round(y(Math.min(OPEN[i],CLOSE[i])))-Math.round(y(Math.max(OPEN[i],CLOSE[i])))))
  .attr('fill',i=>CLOSE[i]>=OPEN[i]?'#fff':'#000').attr('stroke','#000');

// frame
svg.append('rect').attr('x',PL+0.5).attr('y',PT+0.5).attr('width',PR-PL).attr('height',PB-PT)
  .attr('fill','none').attr('stroke','#000').attr('shape-rendering','crispEdges');

// chart shift marker
svg.append('path').attr('d',`M${x(672)-7},1 L${x(672)+7},1 L${x(672)},8 Z`).attr('fill','#a0a0a0');

// price axis
const pa = svg.append('g');
pa.selectAll('line').data(PRICE_TICKS).join('line')
  .attr('x1',PR).attr('x2',PR+4).attr('y1',d=>px(y(d))).attr('y2',d=>px(y(d)))
  .attr('stroke','#000').attr('shape-rendering','crispEdges');
pa.selectAll('text').data(PRICE_TICKS).join('text')
  .attr('x',PR+10).attr('y',d=>y(d)).attr('dy','0.36em')
  .attr('font-family',AXIS_FONT).attr('font-size',18).attr('fill','#000')
  .text(d=>d.toFixed(2));

// price boxes
const pb = svg.append('g');
LEVEL_PRICES.forEach((p,k)=>{
  pb.append('rect').attr('x',PR+2).attr('y',Math.round(y(p))-11).attr('width',81).attr('height',23)
    .attr('fill',LEVEL_STYLE[k].c);
  pb.append('text').attr('x',PR+10).attr('y',y(p)).attr('dy','0.36em')
    .attr('font-family',AXIS_FONT).attr('font-size',18).attr('fill','#fff').text(p.toFixed(2));
});

// time axis
const ta = svg.append('g');
ta.selectAll('line').data(TIME_LABEL_BARS).join('line')
  .attr('x1',d=>px(x(d))).attr('x2',d=>px(x(d))).attr('y1',PB).attr('y2',PB+5)
  .attr('stroke','#000').attr('shape-rendering','crispEdges');
ta.selectAll('text').data(TIME_LABEL_BARS).join('text')
  .attr('x',d=>x(d)+1).attr('y',1994)
  .attr('font-family',AXIS_FONT).attr('font-size',18).attr('fill','#000')
  .text((d,k)=>TIME_LABELS[k]);

// header
svg.append('path').attr('d','M8,15 L20,15 L14,21 Z').attr('fill','#000');
svg.append('text').attr('x',31).attr('y',24).attr('font-family',AXIS_FONT).attr('font-size',18)
  .attr('fill','#000').text(SYMBOL);
svg.append('text').attr('x',145).attr('y',24).attr('font-family',AXIS_FONT).attr('font-size',18)
  .attr('fill','#000').text(LAST_OHLC.join(' '));
</script>
</body></html>
